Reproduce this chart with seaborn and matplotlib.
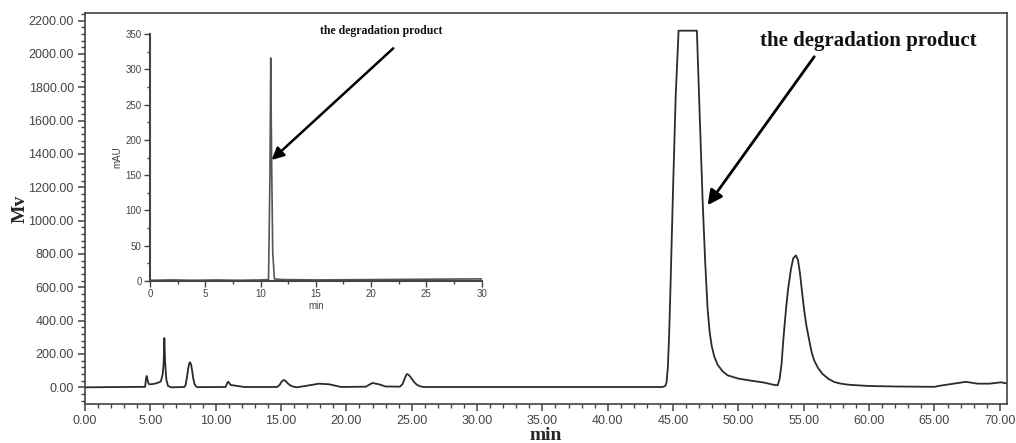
import numpy as np
import pandas as pd
import matplotlib
matplotlib.use("Agg")
import matplotlib.pyplot as plt
from matplotlib.ticker import MultipleLocator, FuncFormatter
import seaborn as sns

# main chromatogram (min, Mv)
time_min = [0, 4.6, 4.66, 4.72, 4.78, 4.85, 4.92, 5.2, 5.5, 5.8, 5.95, 6.02, 6.07, 6.13,
            6.22, 6.35, 6.6, 7.6, 7.7, 7.8, 7.9, 7.98, 8.05, 8.12, 8.2, 8.28, 8.38, 8.5,
            8.6, 10.75, 10.88, 10.96, 11.05, 11.15, 11.5, 12.2,
            14.7, 14.9, 15.05, 15.2, 15.35, 15.5, 15.7, 15.9, 16.2, 17.0, 17.9, 18.7, 19.6,
            21.5, 21.8, 22.0, 22.5, 23.0, 24.1, 24.3, 24.45, 24.58, 24.67, 24.8, 25.0, 25.2,
            25.4, 25.65, 25.9, 44.2, 44.4, 44.5, 44.6, 44.7, 44.8, 45.0, 45.2, 45.42,
            46.82, 47.05, 47.26, 47.45, 47.64, 47.8, 47.95, 48.15, 48.41, 48.8, 49.17,
            50.0, 50.96, 52.0, 52.7, 53.0, 53.15, 53.3, 53.45, 53.63, 53.8, 54.02, 54.2,
            54.4, 54.55, 54.7, 54.87, 55.03, 55.2, 55.42, 55.6, 55.8, 56.1, 56.44, 56.9,
            57.33, 57.84, 58.5, 60.0, 62.0, 65.0, 65.3, 66.3, 67.4, 68.3, 69.2, 70.1, 70.6]
signal_mv = [0, 3, 45, 68, 48, 25, 18, 20, 25, 35, 80, 150, 295, 150,
             50, 8, 0, 2, 15, 60, 115, 145, 150, 135, 100, 55, 20, 5,
             1, 2, 25, 34, 24, 14, 10, 2,
             2, 15, 35, 44, 38, 25, 12, 5, 0, 10, 22, 18, 2,
             4, 18, 26, 18, 5, 4, 20, 50, 75, 80, 72, 52, 30,
             15, 6, 2, 2, 8, 30, 120, 320, 600, 1200, 1750, 2139,
             2139, 1600, 1120, 760, 470, 330, 250, 185, 135, 95, 72,
             52, 40, 28, 15, 12, 50, 140, 300, 461, 590, 710, 775,
             791, 765, 690, 570, 461, 370, 281, 210, 160, 115, 80, 50,
             32, 22, 15, 8, 5, 3, 8, 20, 33, 22, 22, 30, 22]

# inset chromatogram (min, mAU)
inset_time = [0, 2, 4, 6, 8, 10, 10.72, 10.85, 10.92, 11.0, 11.1, 11.25, 12, 15, 20, 25, 30]
inset_mau = [1, 1.5, 1, 1.5, 1, 1.5, 2, 150, 316, 171, 40, 3, 2, 1.5, 2, 2.5, 3]

label_text = "the degradation product"

main_df = pd.DataFrame({"min": time_min, "Mv": signal_mv})
inset_df = pd.DataFrame({"min": inset_time, "mAU": inset_mau})

sns.set_style("ticks")
plt.rcParams["font.family"] = ["Liberation Sans", "DejaVu Sans"]

fig = plt.figure(figsize=(10.16, 4.43), dpi=100)
ax = fig.add_axes([85 / 1016, 39 / 443, 922 / 1016, 391 / 443])

sns.lineplot(data=main_df, x="min", y="Mv", ax=ax, color="#2b2b2b", linewidth=1.3)
ax.set_xlim(0, 70.55)
ax.set_ylim(-100, 2245)
two_dec = FuncFormatter(lambda v, p: f"{0.0 if abs(v) < 1e-9 else v:.2f}")
ax.xaxis.set_major_locator(MultipleLocator(5))
ax.xaxis.set_minor_locator(MultipleLocator(1))
ax.yaxis.set_major_locator(MultipleLocator(200))
ax.yaxis.set_minor_locator(MultipleLocator(40))
ax.xaxis.set_major_formatter(two_dec)
ax.yaxis.set_major_formatter(two_dec)
ax.tick_params(which="major", length=5, width=1.1, color="#444444",
               labelsize=9, labelcolor="#444444", pad=3)
ax.tick_params(which="minor", length=3, width=1.0, color="#444444")
for s in ax.spines.values():
    s.set_color("#444444")
    s.set_linewidth(1.2)
ax.set_xlabel("min", family=["Liberation Serif"], fontweight="bold", fontsize=14, labelpad=0)
ax.set_ylabel("Mv", family=["Liberation Serif"], fontweight="bold", fontsize=14, labelpad=0)

ax.annotate("", xy=(47.64, 1092), xytext=(55.8, 1983), textcoords="data",
            arrowprops=dict(arrowstyle="-|>", color="black", lw=2, mutation_scale=22,
                            shrinkA=0, shrinkB=0))
ax.text(59.9, 2077, label_text, family=["Liberation Serif"], fontweight="bold",
        fontsize=15, ha="center", va="center", color="#111111")

# inset
axi = fig.add_axes([150 / 1016, (443 - 281) / 443, 331.7 / 1016, 247 / 443])
axi.patch.set_alpha(0)
sns.lineplot(data=inset_df, x="min", y="mAU", ax=axi, color="#555555", linewidth=1.2)
axi.set_xlim(0, 30)
axi.set_ylim(0, 350)
axi.xaxis.set_major_locator(MultipleLocator(5))
axi.xaxis.set_minor_locator(MultipleLocator(2.5))
axi.yaxis.set_major_locator(MultipleLocator(50))
axi.yaxis.set_minor_locator(MultipleLocator(25))
axi.tick_params(which="major", length=4, width=1.0, color="#444444",
                labelsize=7, labelcolor="#444444", pad=2)
axi.tick_params(which="minor", length=2.5, width=1.0, color="#444444")
for side in ["top", "right"]:
    axi.spines[side].set_visible(False)
for side in ["left", "bottom"]:
    axi.spines[side].set_color("#444444")
    axi.spines[side].set_linewidth(1.5)
axi.set_xlabel("min", fontsize=7, color="#444444", labelpad=1)
axi.set_ylabel("mAU", fontsize=7, color="#444444", labelpad=2)

axi.annotate("", xy=(11.0, 171.5), xytext=(22.0, 329.7), textcoords="data",
             arrowprops=dict(arrowstyle="-|>", color="black", lw=1.8, mutation_scale=18,
                             shrinkA=0, shrinkB=0))
axi.text(20.95, 354, label_text, family=["Liberation Serif"], fontweight="bold",
         fontsize=8.5, ha="center", va="center", color="#111111", clip_on=False)

fig.savefig("out.png", dpi=100)
